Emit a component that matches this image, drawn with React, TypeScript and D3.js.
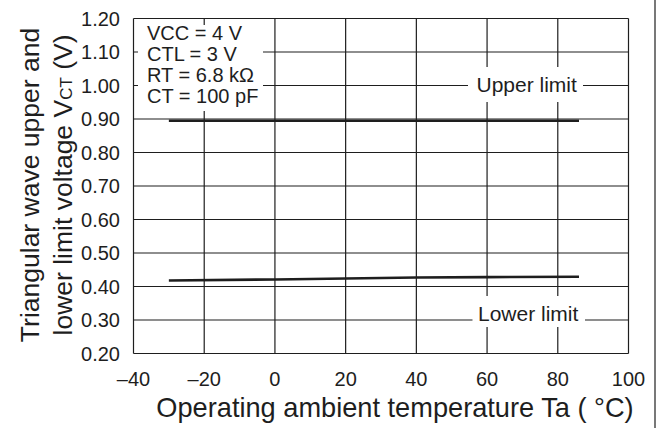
import * as d3 from "d3";

const W = 660,
  H = 428;

// x axis: operating ambient temperature (°C)
const xTicks = [-40, -20, 0, 20, 40, 60, 80, 100];
const xTickLabels = ["–40", "–20", "0", "20", "40", "60", "80", "100"];
// y axis: VCT (V)
const yTicks = [0.2, 0.3, 0.4, 0.5, 0.6, 0.7, 0.8, 0.9, 1.0, 1.1, 1.2];

const temps = [-30, 0, 20, 40, 60, 86];
const upperLimit = [0.895, 0.895, 0.895, 0.895, 0.895, 0.895];
const lowerLimit = [0.418, 0.421, 0.424, 0.427, 0.428, 0.429];

const conditions = ["VCC = 4 V", "CTL = 3 V", "RT = 6.8 kΩ", "CT = 100 pF"];

const font = "'Liberation Sans', Arial, Helvetica, sans-serif";
const ink = "#1e1e1e";

export default function App() {
  const margin = { top: 18.5, right: 31.5, bottom: 74.5, left: 133.5 };

  const xScale = d3
    .scaleLinear()
    .domain([-40, 100])
    .range([margin.left, W - margin.right]);
  const yScale = d3
    .scaleLinear()
    .domain([0.2, 1.2])
    .range([H - margin.bottom, margin.top]);

  const line = d3
    .line<number>()
    .x((_, i) => xScale(temps[i]))
    .y((d) => yScale(d));

  const x0 = xScale(-40),
    x1 = xScale(100),
    y0 = yScale(0.2),
    y1 = yScale(1.2);

  return (
    <svg
      width={W}
      height={H}
      style={{ position: "absolute", left: 0, top: 0, background: "white" }}
      fontFamily={font}
    >
      <rect width={W} height={H} fill="white" />

      {/* grid */}
      <g stroke={ink} strokeWidth={1.2}>
        {xTicks.map((t) => (
          <line key={"gx" + t} x1={xScale(t)} x2={xScale(t)} y1={y1} y2={y0} />
        ))}
        {yTicks.map((t) => (
          <line key={"gy" + t} x1={x0} x2={x1} y1={yScale(t)} y2={yScale(t)} />
        ))}
      </g>

      {/* curves */}
      <path d={line(upperLimit) || ""} fill="none" stroke={ink} strokeWidth={2.6} />
      <path d={line(lowerLimit) || ""} fill="none" stroke={ink} strokeWidth={2.6} />

      {/* condition box */}
      <rect x={x0 + 4.5} y={25} width={125} height={86} fill="white" />
      <g fontSize={20} fill={ink}>
        {conditions.map((c, i) => (
          <text key={c} x={147} y={39.5 + i * 21.3}>
            {c}
          </text>
        ))}
      </g>

      {/* curve labels */}
      <rect x={468} y={67} width={115} height={35} fill="white" />
      <text x={476.5} y={91.5} fontSize={21} fill={ink}>
        Upper limit
      </text>
      <rect x={472.5} y={296} width={112.5} height={31} fill="white" />
      <text x={478} y={320.5} fontSize={21} fill={ink}>
        Lower limit
      </text>

      {/* tick labels */}
      <g fontSize={20} fill={ink}>
        {yTicks.map((t) => (
          <text key={"ly" + t} x={120} y={yScale(t)} dy="0.37em" textAnchor="end">
            {t.toFixed(2)}
          </text>
        ))}
        {xTicks.map((t, i) => (
          <text key={"lx" + t} x={xScale(t)} y={385.5} textAnchor="middle">
            {xTickLabels[i]}
          </text>
        ))}
      </g>

      {/* axis titles */}
      <text x={395} y={416.5} fontSize={27.2} textAnchor="middle" fill={ink}>
        Operating ambient temperature Ta ( °C)
      </text>
      <g transform="translate(0,185) rotate(-90)" fontSize={26.5} fill={ink}>
        <text x={0} y={38.5} textAnchor="middle">
          Triangular wave upper and
        </text>
        <text x={0} y={72} textAnchor="middle">
          lower limit voltage V
          <tspan fontSize={17}>CT</tspan> (V)
        </text>
      </g>

      {/* page edge */}
      <line x1={655} x2={655} y1={0} y2={H} stroke={ink} strokeWidth={1.2} />
    </svg>
  );
}
